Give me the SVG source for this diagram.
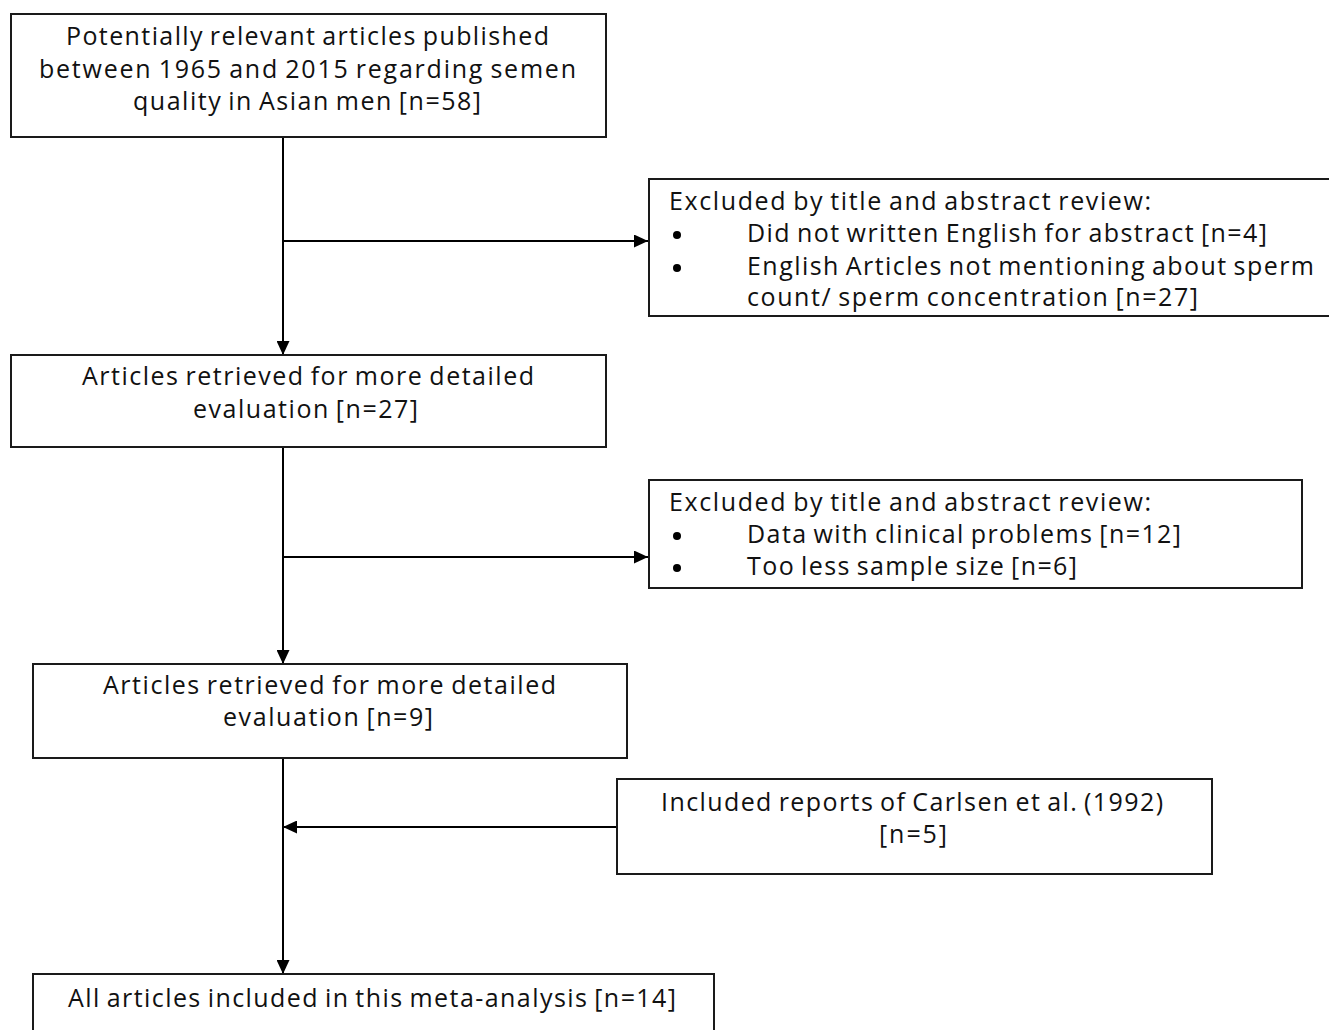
<svg xmlns="http://www.w3.org/2000/svg" width="1329" height="1030" viewBox="0 0 1329 1030">
<style>
.box{fill:#fff;stroke:#1a1a1a;stroke-width:2}
.t{font-family:"Open Sans","Liberation Sans",sans-serif;font-size:25px;word-spacing:-2px;fill:#111}
.ln{stroke:#000;stroke-width:2;fill:none}
.bul{fill:#000}
</style>
<defs>
<marker id="ah" viewBox="0 0 14 13" refX="14" refY="6.5" markerWidth="14" markerHeight="13" markerUnits="userSpaceOnUse" orient="auto">
<path d="M0,0 L14,6.5 L0,13 Z" fill="#000"/>
</marker>
</defs>
<rect width="1329" height="1030" fill="#fff"/>
<g id="connectors">
<line class="ln" x1="283" y1="137" x2="283" y2="355" marker-end="url(#ah)"/>
<line class="ln" x1="283" y1="241" x2="648" y2="241" marker-end="url(#ah)"/>
<line class="ln" x1="283" y1="447" x2="283" y2="664" marker-end="url(#ah)"/>
<line class="ln" x1="283" y1="557" x2="648" y2="557" marker-end="url(#ah)"/>
<line class="ln" x1="283" y1="758" x2="283" y2="974" marker-end="url(#ah)"/>
<line class="ln" x1="617" y1="827" x2="283" y2="827" marker-end="url(#ah)"/>
</g>
<g id="n1">
<rect class="box" x="11" y="14" width="595" height="123"/>
<text class="t" x="66" y="45" textLength="483">Potentially relevant articles published</text>
<text class="t" x="39" y="78" textLength="537">between 1965 and 2015  regarding semen</text>
<text class="t" x="133" y="110" textLength="348">quality in Asian men [n=58]</text>
</g>
<g id="n2">
<rect class="box" x="649" y="179" width="700" height="137"/>
<text class="t" x="669" y="210" textLength="482">Excluded by title and abstract review:</text>
<circle class="bul" cx="677" cy="235" r="4"/>
<text class="t" x="747" y="242" textLength="520">Did not written English for abstract [n=4]</text>
<circle class="bul" cx="677" cy="268" r="4"/>
<text class="t" x="747" y="275" textLength="567">English Articles not mentioning about sperm</text>
<text class="t" x="747" y="306" textLength="451">count/ sperm concentration [n=27]</text>
</g>
<g id="n3">
<rect class="box" x="11" y="355" width="595" height="92"/>
<text class="t" x="82" y="385" textLength="452">Articles retrieved for more detailed</text>
<text class="t" x="193" y="418" textLength="225">evaluation [n=27]</text>
</g>
<g id="n4">
<rect class="box" x="649" y="480" width="653" height="108"/>
<text class="t" x="669" y="511" textLength="482">Excluded by title and abstract review:</text>
<circle class="bul" cx="677" cy="536" r="4"/>
<text class="t" x="747" y="543" textLength="434">Data with clinical problems [n=12]</text>
<circle class="bul" cx="677" cy="568" r="4"/>
<text class="t" x="747" y="575" textLength="330">Too less sample size  [n=6]</text>
</g>
<g id="n5">
<rect class="box" x="33" y="664" width="594" height="94"/>
<text class="t" x="103" y="694" textLength="453">Articles retrieved for more detailed</text>
<text class="t" x="223" y="726" textLength="210">evaluation [n=9]</text>
</g>
<g id="n6">
<rect class="box" x="617" y="779" width="595" height="95"/>
<text class="t" x="661" y="811" textLength="502">Included reports of Carlsen et al. (1992)</text>
<text class="t" x="879" y="843" textLength="68">[n=5]</text>
</g>
<g id="n7">
<rect class="box" x="33" y="974" width="681" height="70"/>
<text class="t" x="68" y="1007" textLength="608">All articles included in this meta-analysis [n=14]</text>
</g>
</svg>
